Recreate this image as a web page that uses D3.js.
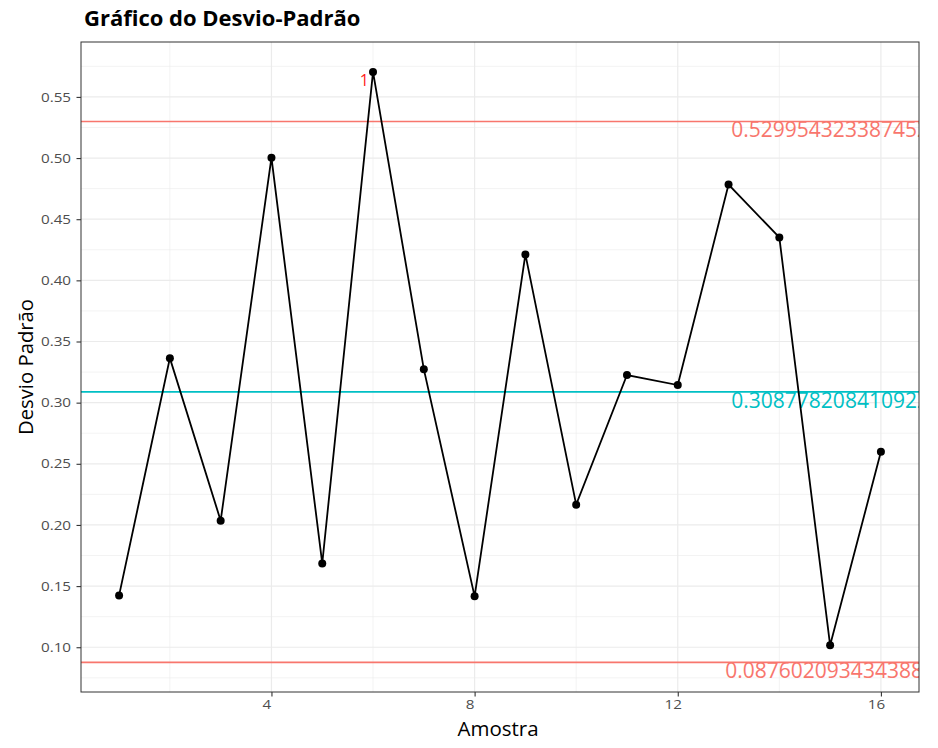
<!DOCTYPE html>
<html><head><meta charset="utf-8">
<script src="https://cdn.jsdelivr.net/npm/d3@7"></script>
<style>body{margin:0;background:#fff}text{font-family:"Open Sans","Noto Sans",sans-serif}</style>
</head><body><svg id="c" width="938" height="748"></svg>
<script>
const amostra = [1,2,3,4,5,6,7,8,9,10,11,12,13,14,15,16];
const desvio = [0.1424,0.3364,0.2035,0.5003,0.1685,0.5704,0.3274,0.1416,0.4212,0.2166,0.3226,0.3144,0.4783,0.4351,0.1016,0.2598];
const limitValues = [0.529954323387452, 0.308778208410922, 0.0876020934343887];
const limitLabels = ["0.529954323387452","0.308778208410922","0.0876020934343887"];
const limitColors = ["#F8766D","#00BFC4","#F8766D"];
const xTicks = [4,8,12,16];
const yTicks = [0.10,0.15,0.20,0.25,0.30,0.35,0.40,0.45,0.50,0.55];
const outlierIdx = [5];
const outlierLabels = ["1"];

const svg = d3.select("#c");
const L=81,R=919,T=42,B=692;
const x = d3.scaleLinear().domain([0.25,16.75]).range([L,R]);
const y = d3.scaleLinear().domain([0.0634,0.5949]).range([B,T]);

svg.append("defs").append("clipPath").attr("id","clip").append("rect").attr("x",L).attr("y",T).attr("width",R-L).attr("height",B-T);
const g = svg.append("g");
const xMinor=[2,6,10,14], yMinor=[0.075,0.125,0.175,0.225,0.275,0.325,0.375,0.425,0.475,0.525,0.575];
g.selectAll(".xm").data(xMinor).enter().append("line").attr("x1",d=>x(d)).attr("x2",d=>x(d)).attr("y1",T).attr("y2",B).attr("stroke","#EBEBEB").attr("stroke-width",0.6);
g.selectAll(".ym").data(yMinor).enter().append("line").attr("y1",d=>y(d)).attr("y2",d=>y(d)).attr("x1",L).attr("x2",R).attr("stroke","#EBEBEB").attr("stroke-width",0.6);
g.selectAll(".xM").data(xTicks).enter().append("line").attr("x1",d=>x(d)).attr("x2",d=>x(d)).attr("y1",T).attr("y2",B).attr("stroke","#EBEBEB").attr("stroke-width",1.2);
g.selectAll(".yM").data(yTicks).enter().append("line").attr("y1",d=>y(d)).attr("y2",d=>y(d)).attr("x1",L).attr("x2",R).attr("stroke","#EBEBEB").attr("stroke-width",1.2);

const p = svg.append("g").attr("clip-path","url(#clip)");
p.selectAll(".lim").data(limitValues).enter().append("line").attr("x1",L).attr("x2",R).attr("y1",d=>y(d)).attr("y2",d=>y(d)).attr("stroke",(d,i)=>limitColors[i]).attr("stroke-width",1.6);
p.selectAll(".limt").data(limitValues).enter().append("text").attr("x",x(15)).attr("y",d=>y(d)+16).attr("text-anchor","middle").attr("font-size",21).attr("fill",(d,i)=>limitColors[i]).text((d,i)=>limitLabels[i]);

const line = d3.line().x((d,i)=>x(amostra[i])).y(d=>y(d));
p.append("path").datum(desvio).attr("d",line).attr("fill","none").attr("stroke","#000").attr("stroke-width",1.8);
p.selectAll(".pt").data(desvio).enter().append("circle").attr("cx",(d,i)=>x(amostra[i])).attr("cy",d=>y(d)).attr("r",4).attr("fill","#000");
p.selectAll(".ol").data(outlierIdx).enter().append("text").attr("x",d=>x(amostra[d])-4).attr("y",d=>y(desvio[d])+14).attr("text-anchor","end").attr("font-size",16).attr("fill","#FF1A1A").text((d,i)=>outlierLabels[i]);

svg.append("rect").attr("x",L).attr("y",T).attr("width",R-L).attr("height",B-T).attr("fill","none").attr("stroke","#333333").attr("stroke-width",1);

const xa = svg.append("g").attr("transform",`translate(0,${B})`).call(d3.axisBottom(x).tickValues(xTicks).tickSize(4.5).tickPadding(3));
const ya = svg.append("g").attr("transform",`translate(${L},0)`).call(d3.axisLeft(y).tickValues(yTicks).tickFormat(d3.format(".2f")).tickSize(4.5).tickPadding(3));
[xa,ya].forEach(a=>{a.select(".domain").remove();a.selectAll("line").attr("stroke","#333333").attr("stroke-width",1.1);a.selectAll("text").attr("fill","#4D4D4D").attr("font-size",13).attr("font-family","'Open Sans',sans-serif");});
const sx=1.17;
ya.selectAll("text").attr("x",-10/sx).attr("transform",`scale(${sx},1)`);
xa.selectAll("text").attr("x",-5/sx).attr("transform",`scale(${sx},1)`);

svg.append("text").attr("x",84).attr("y",26).attr("font-size",22).attr("font-weight","bold").attr("fill","#000").text("Gráfico do Desvio-Padrão");
svg.append("text").attr("x",(L+R)/2-2).attr("y",736).attr("text-anchor","middle").attr("font-size",20.5).attr("fill","#000").text("Amostra");
svg.append("text").attr("transform",`translate(33,${(T+B)/2}) rotate(-90)`).attr("text-anchor","middle").attr("font-size",20.3).attr("fill","#000").text("Desvio Padrão");
</script></body></html>
